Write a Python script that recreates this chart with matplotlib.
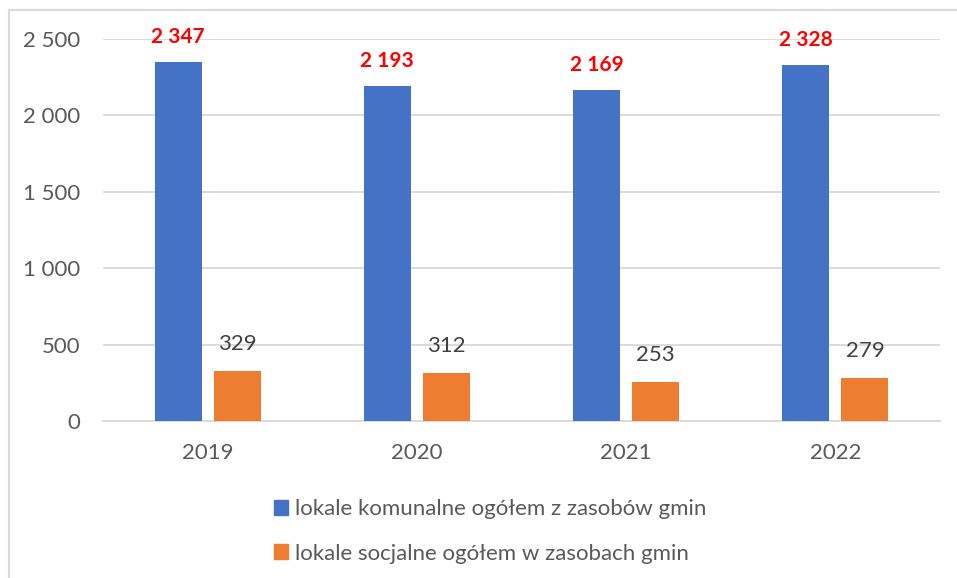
import matplotlib
matplotlib.use("Agg")
import matplotlib.pyplot as plt
from matplotlib.patches import Rectangle
from matplotlib.lines import Line2D
import numpy as np

plt.rcParams['font.family'] = ['Lato', 'DejaVu Sans']

years = ["2019", "2020", "2021", "2022"]
komunalne = [2347, 2193, 2169, 2328]
socjalne = [329, 312, 253, 279]
labels = ["lokale komunalne ogółem z zasobów gmin",
          "lokale socjalne ogółem w zasobach gmin"]
yticks = [0, 500, 1000, 1500, 2000, 2500]

def fmt(v):
    return f"{v:,}".replace(",", " ")

W, H = 957, 578
fig = plt.figure(figsize=(W / 100, H / 100), dpi=100)
ax = fig.add_axes([103 / W, 1 - 421 / H, (940 - 103) / W, (421 - 39) / H])

x = np.arange(len(years))
bw = 0.225
off = 0.141
blue = "#4472C4"
orange = "#ED7D31"
ax.bar(x - off, komunalne, bw, color=blue, zorder=3)
ax.bar(x + off, socjalne, bw, color=orange, zorder=3)

ax.set_xlim(-0.5, len(years) - 0.5)
ax.set_ylim(0, 2500)
ax.set_yticks(yticks)
ax.set_yticklabels([fmt(v) for v in yticks])
ax.set_xticks(x)
ax.set_xticklabels(years)
ax.tick_params(axis='both', length=0, labelsize=16, colors="#595959")
ax.tick_params(axis='y', pad=16.5)
ax.tick_params(axis='x', pad=16)
ax.grid(axis='y', color="#D9D9D9", linewidth=1.3, zorder=0)
for s in ["top", "right", "left"]:
    ax.spines[s].set_visible(False)
ax.spines["bottom"].set_color("#D9D9D9")
ax.spines["bottom"].set_linewidth(1.3)

for xi, v in zip(x, komunalne):
    ax.annotate(fmt(v), (xi - off, v), xytext=(0, 25), textcoords="offset pixels",
                ha="center", va="center", fontsize=15, fontweight="bold", color="#FF0000")
for xi, v in zip(x, socjalne):
    ax.annotate(fmt(v), (xi + off, v), xytext=(0, 27), textcoords="offset pixels",
                ha="center", va="center", fontsize=16, color="#404040")

# legend
leg_handles = [Rectangle((0, 0), 1, 1, color=blue), Rectangle((0, 0), 1, 1, color=orange)]
fig.legend(leg_handles, labels, loc="upper left", bbox_to_anchor=(263 / W, 1 - 488 / H),
           frameon=False, fontsize=16, labelcolor="#595959", handlelength=0.63,
           handleheight=0.63, handletextpad=0.32, labelspacing=1.1, borderpad=0)

# outer border
fig.add_artist(Line2D([9 / W, 9 / W], [0, 1 - 10 / H], color="#D9D9D9", lw=1.5))
fig.add_artist(Line2D([9 / W, 1], [1 - 10 / H, 1 - 10 / H], color="#D9D9D9", lw=1.5))

fig.savefig("out.png", dpi=100)
